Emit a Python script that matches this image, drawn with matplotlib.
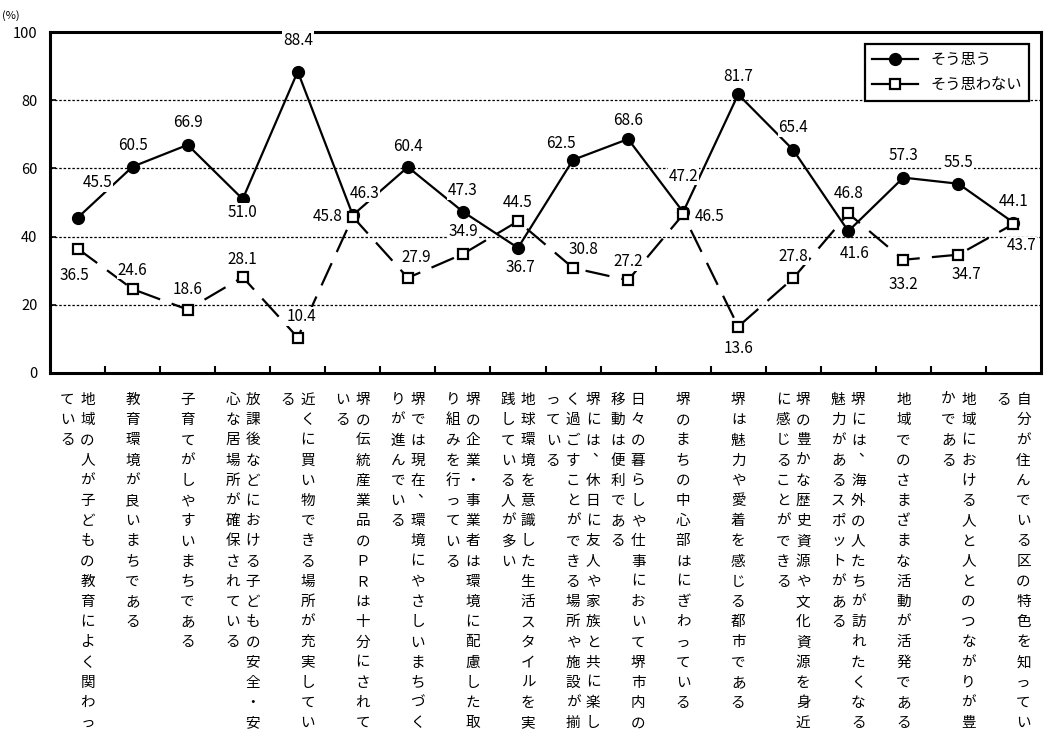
import matplotlib
matplotlib.use("Agg")
import matplotlib.pyplot as plt
from matplotlib.lines import Line2D
import numpy as np

plt.rcParams["font.family"] = ["Noto Sans CJK JP", "DejaVu Sans"]

# data
categories = [
    "地域の人が子どもの教育によく関わっている",
    "教育環境が良いまちである",
    "子育てがしやすいまちである",
    "放課後などにおける子どもの安全・安心な居場所が確保されている",
    "近くに買い物できる場所が充実している",
    "堺の伝統産業品のＰＲは十分にされている",
    "堺では現在、環境にやさしいまちづくりが進んでいる",
    "堺の企業・事業者は環境に配慮した取り組みを行っている",
    "地球環境を意識した生活スタイルを実践している人が多い",
    "堺には、休日に友人や家族と共に楽しく過ごすことができる場所や施設が揃っている",
    "日々の暮らしや仕事において堺市内の移動は便利である",
    "堺のまちの中心部はにぎわっている",
    "堺は魅力や愛着を感じる都市である",
    "堺の豊かな歴史資源や文化資源を身近に感じることができる",
    "堺には、海外の人たちが訪れたくなる魅力があるスポットがある",
    "地域でのさまざまな活動が活発である",
    "地域における人と人とのつながりが豊かである",
    "自分が住んでいる区の特色を知っている",
]
agree = [45.5, 60.5, 66.9, 51.0, 88.4, 46.3, 60.4, 47.3, 36.7,
         62.5, 68.6, 47.2, 81.7, 65.4, 41.6, 57.3, 55.5, 44.1]
disagree = [36.5, 24.6, 18.6, 28.1, 10.4, 45.8, 27.9, 34.9, 44.5,
            30.8, 27.2, 46.5, 13.6, 27.8, 46.8, 33.2, 34.7, 43.7]
series_names = ["そう思う", "そう思わない"]
yticks = [0, 20, 40, 60, 80, 100]

# label offsets in pixels (dx, dy), dy positive = up
agree_off = [(20, 35), (0, 21), (0, 22), (0, -13), (0, 31), (12, 22),
             (0, 21), (0, 21), (2, -20), (-12, 16), (0, 19), (0, 36),
             (0, 18), (0, 22), (6, -22), (0, 22), (0, 21), (0, 21)]
disagree_off = [(-3, -27), (0, 19), (0, 20), (0, 18), (4, 21), (-25, 0),
                (8, 20), (0, 22), (0, 19), (10, 18), (0, 19), (26, -2),
                (0, -22), (0, 22), (0, 20), (0, -25), (8, -20), (8, -22)]

fig = plt.figure(figsize=(10.45, 7.35), dpi=100)
ax = fig.add_axes([50 / 1045, (735 - 373) / 735, 991 / 1045, 341 / 735])

x = np.arange(len(categories))
ax.plot(x, agree, color="black", lw=1.6, marker="o", ms=8.5,
        mfc="black", mec="black", zorder=3)
ax.plot(x, disagree, color="black", lw=1.6, ls=(0, (11, 5.5)), marker="s",
        ms=7, mfc="white", mec="black", mew=1.6, zorder=4)

for i in x:
    ax.annotate(f"{agree[i]:.1f}", xy=(i, agree[i]), xytext=agree_off[i],
                textcoords="offset pixels", ha="center", va="center",
                fontsize=11, zorder=6,
                bbox=dict(boxstyle="square,pad=0.05", fc="white", ec="none"))
    ax.annotate(f"{disagree[i]:.1f}", xy=(i, disagree[i]), xytext=disagree_off[i],
                textcoords="offset pixels", ha="center", va="center",
                fontsize=11, zorder=6,
                bbox=dict(boxstyle="square,pad=0.05", fc="white", ec="none"))

ax.set_xlim(-0.5, len(categories) - 0.5)
ax.set_ylim(0, 100)
ax.set_yticks(yticks)
ax.set_xticks(np.arange(0.5, len(categories) - 1, 1))
ax.set_xticklabels([])
ax.tick_params(axis="x", direction="in", length=5, width=1.5)
ax.tick_params(axis="y", direction="in", length=4, width=1.2, pad=9,
               labelsize=10.5)
ax.grid(axis="y", color="black", lw=0.9, ls=(0, (2, 1.5)), zorder=1)
for s in ax.spines.values():
    s.set_linewidth(2.2)

# vertical category labels, 17 chars per column, right to left
per_col = 17
pitch = 20.2
col_gap = 20
for i, lab in enumerate(categories):
    cols = [lab[k:k + per_col] for k in range(0, len(lab), per_col)]
    n = len(cols)
    for j, col in enumerate(cols):
        dx = (n - 1) / 2 * col_gap - j * col_gap
        for k, ch in enumerate(col):
            ox, oy = dx, -27 - k * pitch
            if ch == "、":
                ox += 7
                oy += 8
            ax.annotate(ch, xy=(i, 0), xycoords=("data", "axes fraction"),
                        xytext=(ox, oy), textcoords="offset pixels",
                        ha="center", va="center", fontsize=10.5,
                        annotation_clip=False)

fig.text(11 / 1045, 1 - 16 / 735, "(%)", ha="center", va="center", fontsize=8)

handles = [
    Line2D([], [], color="black", lw=1.6, marker="o", ms=8.5, mfc="black"),
    Line2D([], [], color="black", lw=1.6, marker="s", ms=7, mfc="white", mew=1.6),
]
leg = ax.legend(handles, series_names, loc="upper right",
                bbox_to_anchor=(0.996, 0.988), fontsize=11, handlelength=3,
                fancybox=False, framealpha=1, edgecolor="black",
                borderpad=0.5, labelspacing=0.5)
leg.get_frame().set_linewidth(1.6)
leg.set_zorder(10)

fig.savefig("out.png", dpi=100)
